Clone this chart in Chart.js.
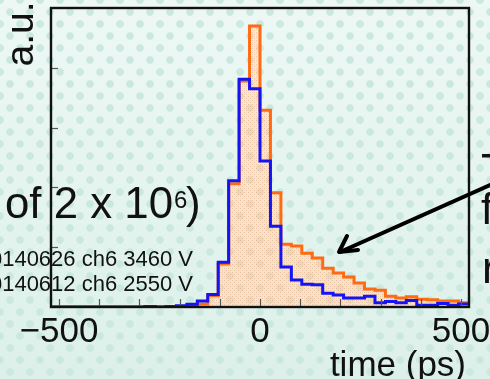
<!DOCTYPE html>
<html><head><meta charset="utf-8">
<script src="https://cdn.jsdelivr.net/npm/chart.js@4/dist/chart.umd.min.js"></script>
<style>
html,body{margin:0;padding:0;width:490px;height:379px;overflow:hidden;}
body{background-color:#e3f3ee;
background-image:radial-gradient(circle at center,#cbe8de 0 3.2px,rgba(203,232,222,0) 4.4px),radial-gradient(circle at center,#cbe8de 0 3.2px,rgba(203,232,222,0) 4.4px),linear-gradient(#edf8f5,#dcf0e9);
background-size:20px 24px,20px 24px,100% 100%;
background-position:0 0,10px 12px,0 0;}
#wrap{position:relative;width:490px;height:379px;}
canvas{display:block;}
</style></head>
<body><div id="wrap"><canvas id="c" width="490" height="379" style="width:490px;height:379px"></canvas></div>
<script>
// bin lower edges (ps), bin width 26 ps, histogram range -520..520
const binLowEdges = [-520,-494,-468,-442,-416,-390,-364,-338,-312,-286,-260,-234,-208,-182,-156,-130,-104,-78,-52,-26,0,26,52,78,104,130,156,182,208,234,260,286,312,338,364,390,416,442,468,494];
const binUpperEnd = 520;
// 20140626 ch6 3460 V (orange, filled)
const orangeValues = [0,0,0,0,0,0,0,0,0,0.01,0,0.01,0.01,0.02,0.05,0.19,0.72,2.06,3.78,4.70,3.29,1.91,1.05,1.02,0.90,0.82,0.65,0.57,0.50,0.40,0.30,0.28,0.18,0.15,0.17,0.13,0.12,0.10,0.10,0.07];
// 20140612 ch6 2550 V (blue)
const blueValues = [0,0,0,0,0,0,0,0,0,0.01,0,0.01,0.02,0.045,0.10,0.21,0.75,2.11,3.81,3.65,2.44,1.35,0.67,0.45,0.38,0.37,0.23,0.20,0.15,0.15,0.18,0.07,0.09,0.07,0.11,0.03,0.03,0.06,0.03,0.05];
const xTickValues = [-500,-400,-300,-200,-100,0,100,200,300,400,500];
const xTickLabels = ['\u2212500','0','500'];
const xLabelValues = [-500,0,500];
const yTickValues = [1,2,3,4];
const xRange = [-520,520];
const yRange = [0,5];

function stepPoints(vals){
  const pts = binLowEdges.map((e,i)=>({x:e,y:vals[i]}));
  pts.push({x:binUpperEnd,y:vals[vals.length-1]});
  return pts;
}

function makePattern(){
  const p = document.createElement('canvas');
  p.width = 4; p.height = 4;
  const g = p.getContext('2d');
  g.fillStyle = 'rgba(255,200,165,0.22)';
  g.fillRect(0,0,4,4);
  g.fillStyle = 'rgba(255,130,60,0.40)';
  g.fillRect(0,0,1,1);
  g.fillRect(2,2,1,1);
  g.fillStyle = 'rgba(255,160,100,0.22)';
  g.fillRect(2,0,1,1);
  g.fillRect(0,2,1,1);
  return g.createPattern(p,'repeat');
}

const deco = {
  id:'deco',
  afterDraw(chart){
    const {ctx, chartArea:a, scales:{x,y}} = chart;
    ctx.save();
    // ticks
    ctx.strokeStyle = '#555'; ctx.lineWidth = 1.2;
    xTickValues.forEach(v=>{const px=Math.round(x.getPixelForValue(v))+0.5;ctx.beginPath();ctx.moveTo(px,a.bottom);ctx.lineTo(px,a.bottom-8);ctx.stroke();});
    yTickValues.forEach(v=>{const py=Math.round(y.getPixelForValue(v))+0.5;ctx.beginPath();ctx.moveTo(a.left,py);ctx.lineTo(a.left+7,py);ctx.stroke();});
    // frame
    ctx.strokeStyle = '#111'; ctx.lineWidth = 2.4;
    ctx.strokeRect(a.left, a.top, a.right-a.left, a.bottom-a.top);
    // x tick labels
    ctx.fillStyle = '#111';
    ctx.font = '35px "Liberation Sans", Arial, sans-serif';
    ctx.textAlign = 'center'; ctx.textBaseline = 'alphabetic';
    xLabelValues.forEach((v,i)=>{ctx.fillText(xTickLabels[i], x.getPixelForValue(v), 342);});
    // x title
    ctx.textAlign = 'right';
    ctx.fillText('time (ps)', 466, 376);
    // y title
    ctx.save();
    ctx.translate(33, 34); ctx.rotate(-Math.PI/2);
    ctx.textAlign = 'center';
    ctx.font = '39px "Liberation Sans", Arial, sans-serif';
    ctx.fillText('a.u.', 0, 0);
    ctx.restore();
    // slide text overlapping the plot
    ctx.textAlign = 'left';
    ctx.font = '44px "Liberation Sans", Arial, sans-serif';
    ctx.fillText('of 2 x 10', 5, 218, 168);
    ctx.font = '24px "Liberation Sans", Arial, sans-serif';
    ctx.fillText('6', 174, 208);
    ctx.font = '44px "Liberation Sans", Arial, sans-serif';
    ctx.fillText(')', 186, 218);
    // run labels
    ctx.font = '22px "Liberation Sans", Arial, sans-serif';
    ctx.textAlign = 'right';
    ctx.fillText('20140626 ch6 3460 V', 193, 266);
    ctx.fillText('20140612 ch6 2550 V', 193, 291);
    // right side cut-off text
    ctx.textAlign = 'left';
    ctx.font = '44px "Liberation Sans", Arial, sans-serif';
    ctx.fillText('T', 481, 185);
    ctx.fillText('f', 481, 224);
    ctx.fillText('r', 482, 283);
    // arrow
    ctx.strokeStyle = '#000'; ctx.lineWidth = 4; ctx.lineCap = 'round'; ctx.lineJoin='round';
    ctx.beginPath(); ctx.moveTo(490,185); ctx.lineTo(340,252); ctx.stroke();
    ctx.beginPath(); ctx.moveTo(347,236); ctx.lineTo(339,252); ctx.lineTo(358,250); ctx.stroke();
    ctx.restore();
  }
};

new Chart(document.getElementById('c'), {
  type:'line',
  data:{datasets:[
    {label:'20140612 ch6 2550 V', data:stepPoints(blueValues), borderColor:'#1414f5', borderWidth:3, stepped:'before', pointRadius:0, fill:false, order:0},
    {label:'20140626 ch6 3460 V', data:stepPoints(orangeValues), borderColor:'#ff6a12', borderWidth:3, stepped:'before', pointRadius:0, fill:'origin', backgroundColor:makePattern(), order:1}
  ]},
  options:{
    responsive:false, animation:false, devicePixelRatio:1,
    layout:{padding:{left:51,right:21,top:8,bottom:72}},
    plugins:{legend:{display:false},tooltip:{enabled:false}},
    scales:{
      x:{type:'linear',min:xRange[0],max:xRange[1],display:false},
      y:{type:'linear',min:yRange[0],max:yRange[1],display:false}
    }
  },
  plugins:[deco]
});
</script>
</body></html>
